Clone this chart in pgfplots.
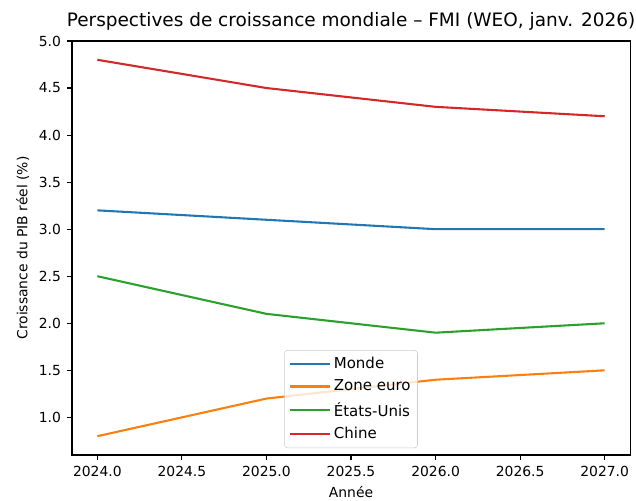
\documentclass[border=0pt]{standalone}
\usepackage{pgfplots}
\pgfplotsset{compat=1.18}
\usepackage{fontspec}
\setmainfont{DejaVu Sans}
\definecolor{tabblue}{HTML}{1F77B4}
\definecolor{taborange}{HTML}{FF7F0E}
\definecolor{tabgreen}{HTML}{2CA02C}
\definecolor{tabred}{HTML}{D62728}
\begin{document}
\begin{tikzpicture}[x=1pt,y=1pt]
\begin{axis}[
  at={(0,0)}, anchor=south west,
  scale only axis,
  width=401.8pt, height=298.1pt,
  xmin=2023.85, xmax=2027.15,
  ymin=0.6, ymax=5.0,
  xtick={2024,2024.5,...,2027},
  ytick={1,1.5,...,5},
  tick pos=left, tick align=outside,
  major tick length=3.5pt,
  axis line style={line width=0.8pt},
  every tick/.style={line width=0.8pt, black},
  /pgf/number format/assume math mode=true,
  /pgf/number format/fixed, /pgf/number format/fixed zerofill,
  /pgf/number format/precision=1, /pgf/number format/1000 sep={},
  ticklabel style={font=\fontsize{10}{12}\selectfont},
  xticklabel style={yshift=-1pt},
  yticklabel style={xshift=-1pt},
  xlabel={Année}, ylabel={Croissance du PIB réel (\%)},
  label style={font=\fontsize{10}{12}\selectfont},
  title={Perspectives de croissance mondiale -- FMI (WEO, janv. 2026)},
  title style={font=\fontsize{13.3}{15}\selectfont, yshift=-2pt},
  legend style={at={(0.5,0)}, anchor=south, yshift=5pt,
    font=\fontsize{10.8}{12}\selectfont, draw=black!20, rounded corners=2pt,
    fill=white, fill opacity=0.8, text opacity=1,
    row sep=2.6pt, inner sep=3pt},
  legend cell align=left,
  legend image code/.code={\draw[#1] (0pt,0pt) -- (24pt,0pt); \path (0pt,0pt) -- (29pt,0pt);},
  every axis plot/.append style={line width=1.5pt},
]
\addplot[tabblue] coordinates {(2024,3.2) (2025,3.1) (2026,3.0) (2027,3.0)};
\addlegendentry{Monde}
\addplot[taborange] coordinates {(2024,0.8) (2025,1.2) (2026,1.4) (2027,1.5)};
\addlegendentry{Zone euro}
\addplot[tabgreen] coordinates {(2024,2.5) (2025,2.1) (2026,1.9) (2027,2.0)};
\addlegendentry{États-Unis}
\addplot[tabred] coordinates {(2024,4.8) (2025,4.5) (2026,4.3) (2027,4.2)};
\addlegendentry{Chine}
\end{axis}
\pgfresetboundingbox
\path[use as bounding box] (-51.84pt,-32.4pt) rectangle (406.08pt,327.6pt);
\end{tikzpicture}
\end{document}
